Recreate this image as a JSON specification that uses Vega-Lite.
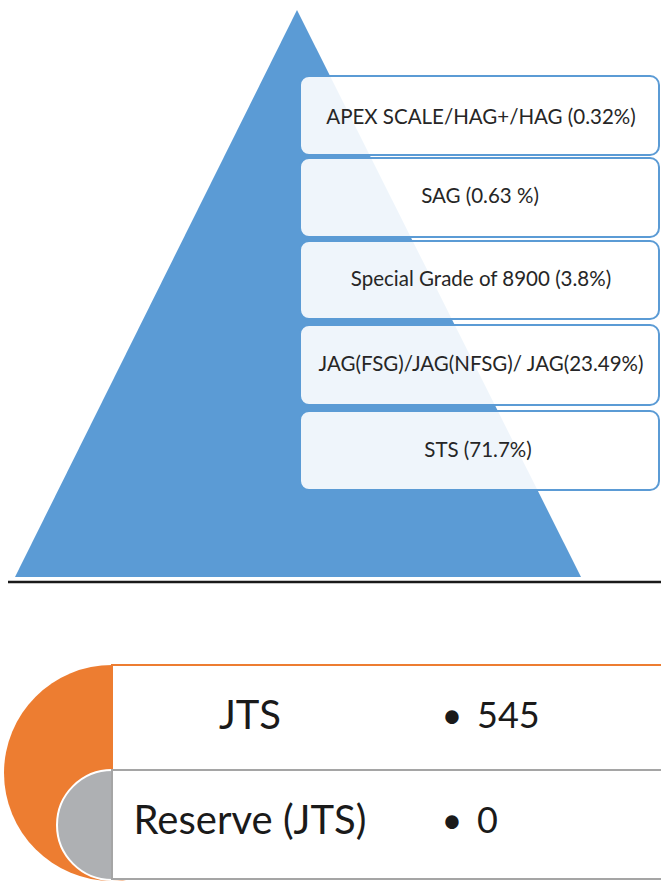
{
  "$schema": "https://vega.github.io/schema/vega-lite/v6.json",
  "width": 661,
  "height": 883,
  "padding": 0,
  "autosize": "none",
  "background": "white",
  "config": {"view": {"stroke": null}},
  "datasets": {
    "triangle": [
      {"x": 15, "y": 577, "y2": 577},
      {"x": 297, "y": 10, "y2": 577},
      {"x": 581, "y": 577, "y2": 577}
    ],
    "levels": [
      {"label": "APEX SCALE/HAG+/HAG (0.32%)", "x": 300, "x2": 659, "y": 76, "y2": 155, "tx": 481, "ty": 118},
      {"label": "SAG (0.63 %)", "x": 300, "x2": 659, "y": 158, "y2": 237, "tx": 480, "ty": 197},
      {"label": "Special Grade of 8900 (3.8%)", "x": 300, "x2": 659, "y": 241, "y2": 319, "tx": 481, "ty": 280},
      {"label": "JAG(FSG)/JAG(NFSG)/ JAG(23.49%)", "x": 300, "x2": 659, "y": 325, "y2": 405, "tx": 481, "ty": 365},
      {"label": "STS (71.7%)", "x": 300, "x2": 659, "y": 411, "y2": 490, "tx": 478, "ty": 451}
    ],
    "divider": [{"x": 8, "x2": 661, "y": 582}],
    "circles": [
      {"name": "JTS", "x": 112, "y": 773},
      {"name": "Reserve (JTS)", "x": 112, "y": 825}
    ],
    "rows": [
      {"name": "JTS", "bullet": "•", "value": "545", "x": 112, "x2": 672, "y": 665, "y2": 770, "tx": 250, "bx": 452, "vx": 477, "ty": 717},
      {"name": "Reserve (JTS)", "bullet": "•", "value": "0", "x": 112, "x2": 672, "y": 770, "y2": 879, "tx": 250, "bx": 452, "vx": 477, "ty": 822}
    ]
  },
  "layer": [
    {
      "data": {"name": "triangle"},
      "mark": {"type": "area", "color": "#5B9BD5", "clip": true},
      "encoding": {
        "x": {"field": "x", "type": "quantitative", "scale": {"domain": [0, 661], "nice": false, "zero": false}, "axis": null},
        "y": {"field": "y", "type": "quantitative", "scale": {"domain": [0, 883], "nice": false, "zero": false, "reverse": true}, "axis": null},
        "y2": {"field": "y2"}
      }
    },
    {
      "data": {"name": "levels"},
      "mark": {"type": "rect", "fill": "white", "fillOpacity": 0.9, "stroke": "#5B9BD5", "strokeWidth": 2, "cornerRadius": 9, "clip": true},
      "encoding": {
        "x": {"field": "x", "type": "quantitative"},
        "x2": {"field": "x2"},
        "y": {"field": "y", "type": "quantitative"},
        "y2": {"field": "y2"}
      }
    },
    {
      "data": {"name": "levels"},
      "mark": {"type": "text", "font": "Lato", "fontSize": 20.5, "color": "#262626", "align": "center", "baseline": "middle"},
      "encoding": {
        "x": {"field": "tx", "type": "quantitative"},
        "y": {"field": "ty", "type": "quantitative"},
        "text": {"field": "label"}
      }
    },
    {
      "data": {"name": "divider"},
      "mark": {"type": "rule", "color": "#1a1a1a", "strokeWidth": 2.5},
      "encoding": {
        "x": {"field": "x", "type": "quantitative"},
        "x2": {"field": "x2"},
        "y": {"field": "y", "type": "quantitative"}
      }
    },
    {
      "data": {"name": "circles"},
      "transform": [{"filter": "datum.name === 'JTS'"}],
      "mark": {"type": "point", "shape": "circle", "filled": true, "color": "#ED7D31", "opacity": 1, "size": 46656},
      "encoding": {
        "x": {"field": "x", "type": "quantitative"},
        "y": {"field": "y", "type": "quantitative"}
      }
    },
    {
      "data": {"name": "circles"},
      "transform": [{"filter": "datum.name !== 'JTS'"}],
      "mark": {"type": "point", "shape": "circle", "filled": true, "fill": "#AEB0B3", "stroke": "white", "strokeWidth": 2, "opacity": 1, "size": 12100},
      "encoding": {
        "x": {"field": "x", "type": "quantitative"},
        "y": {"field": "y", "type": "quantitative"}
      }
    },
    {
      "data": {"name": "rows"},
      "mark": {"type": "rect", "fill": "white", "strokeWidth": 2, "clip": true},
      "encoding": {
        "x": {"field": "x", "type": "quantitative"},
        "x2": {"field": "x2"},
        "y": {"field": "y", "type": "quantitative"},
        "y2": {"field": "y2"},
        "stroke": {"field": "name", "type": "nominal", "scale": {"domain": ["JTS", "Reserve (JTS)"], "range": ["#ED7D31", "#A5A5A5"]}, "legend": null}
      }
    },
    {
      "data": {"name": "rows"},
      "mark": {"type": "text", "font": "Lato", "fontSize": 40, "color": "#1a1a1a", "align": "center", "baseline": "middle"},
      "encoding": {
        "x": {"field": "tx", "type": "quantitative"},
        "y": {"field": "ty", "type": "quantitative"},
        "text": {"field": "name"}
      }
    },
    {
      "data": {"name": "rows"},
      "mark": {"type": "text", "font": "Lato", "fontSize": 36, "color": "#1a1a1a", "align": "center", "baseline": "middle"},
      "encoding": {
        "x": {"field": "bx", "type": "quantitative"},
        "y": {"field": "ty", "type": "quantitative"},
        "text": {"field": "bullet"}
      }
    },
    {
      "data": {"name": "rows"},
      "mark": {"type": "text", "font": "Lato", "fontSize": 36, "color": "#1a1a1a", "align": "left", "baseline": "middle"},
      "encoding": {
        "x": {"field": "vx", "type": "quantitative"},
        "y": {"field": "ty", "type": "quantitative"},
        "text": {"field": "value"}
      }
    }
  ]
}
